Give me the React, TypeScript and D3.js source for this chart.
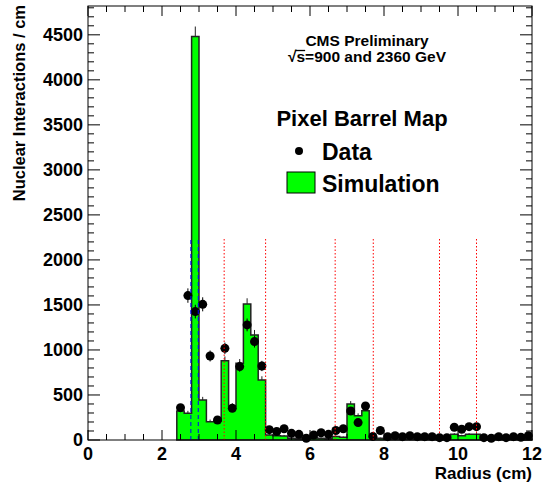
import React, { useLayoutEffect, useRef, useState } from 'react'
import * as d3 from 'd3'

// bin lower edges (cm), width 0.2
const binEdges = [2.4, 2.6, 2.8, 3.0, 3.2, 3.4, 3.6, 3.8, 4.0, 4.2, 4.4, 4.6, 4.8, 5.0, 5.2, 5.4, 5.6, 5.8, 6.0, 6.2, 6.4, 6.6, 6.8, 7.0, 7.2, 7.4, 7.6, 7.8, 8.0, 8.2, 8.4, 8.6, 8.8, 9.0, 9.2, 9.4, 9.6, 9.8, 10.0, 10.2, 10.4, 10.6, 10.8, 11.0, 11.2, 11.4, 11.6, 11.8]
const binWidth = 0.2

const simulation = [322, 296, 4481, 444, 204, 210, 881, 378, 852, 1511, 1167, 667, 56, 48, 45, 20, 15, 10, 25, 20, 15, 40, 30, 400, 270, 325, 30, 20, 10, 10, 8, 10, 8, 8, 10, 8, 10, 63, 48, 63, 63, 10, 8, 10, 8, 8, 8, 10]
const simErr = [29, 28, 111, 35, 23, 23, 47, 31, 47, 63, 55, 41, 12, 11, 11, 7, 6, 5, 8, 7, 6, 10, 9, 32, 26, 29, 9, 7, 5, 5, 5, 5, 5, 5, 5, 5, 5, 13, 11, 13, 13, 5, 5, 5, 5, 5, 5, 5]

const data = [359, 1604, 1426, 1507, 933, 222, 1018, 352, 815, 1278, 1093, 822, 115, 95, 125, 74, 63, 19, 56, 80, 63, 105, 125, 322, 193, 378, 40, 105, 37, 48, 37, 48, 37, 37, 37, 26, 26, 141, 119, 148, 148, 26, 19, 37, 26, 37, 30, 48]
const dataErr = [38, 80, 76, 78, 61, 30, 64, 38, 57, 71, 66, 57, 22, 20, 22, 17, 16, 9, 15, 18, 16, 20, 22, 36, 28, 39, 13, 20, 12, 14, 12, 14, 12, 12, 12, 10, 10, 24, 22, 24, 24, 10, 9, 12, 10, 12, 11, 14]

// layer boundary markers
const blueLines = [2.78, 2.98]
const redLines = [3.68, 4.8, 6.68, 7.71, 9.5, 10.5]
const markerTop = 2250

const yTickLabels = [0, 500, 1000, 1500, 2000, 2500, 3000, 3500, 4000, 4500]
const xTickLabels = [0, 2, 4, 6, 8, 10, 12]

const W = 542
const H = 486
const left = 88, right = 532, top = 6, bottom = 440
const font = 'Liberation Sans, Arial, Helvetica, sans-serif'

export default function App() {
	const energyRef = useRef<SVGTextElement>(null)
	const [bar, setBar] = useState<[number, number] | null>(null)

	useLayoutEffect(() => {
		const t = energyRef.current
		if (!t) return
		// overline over the "s" under the root sign
		const r0 = t.getExtentOfChar(0)
		const r1 = t.getExtentOfChar(1)
		setBar([r0.x + r0.width - 1, r1.x + r1.width])
	}, [])

	const x = d3.scaleLinear().domain([0, 12]).range([left, right])
	const y = d3.scaleLinear().domain([0, 4820]).range([bottom, top])

	// step outline of the simulation histogram
	let d = `M${x(binEdges[0])},${y(0)}`
	binEdges.forEach((e, i) => {
		d += `L${x(e)},${y(simulation[i])}L${x(e + binWidth)},${y(simulation[i])}`
	})
	d += `L${x(binEdges[binEdges.length - 1] + binWidth)},${y(0)}Z`

	const xMinor = d3.range(0, 12.001, 0.5)
	const yMinor = d3.range(0, 4801, 100)

	return (
		<svg width={W} height={H} style={{ position: 'absolute', left: 0, top: 0, background: '#fff' }}
			fontFamily={font} fontWeight="bold">
			<rect x={0} y={0} width={W} height={H} fill="#fff" />

			<path d={d} fill="#00ff00" stroke="#222" strokeWidth={1.5} />
			{binEdges.map((e, i) => (
				<line key={'se' + i} x1={x(e + binWidth / 2)} x2={x(e + binWidth / 2)}
					y1={y(simulation[i])} y2={y(simulation[i] + simErr[i])} stroke="#222" strokeWidth={1} />
			))}

			{/* data points */}
			{binEdges.map((e, i) => (
				<g key={'dp' + i}>
					<line x1={x(e + binWidth / 2)} x2={x(e + binWidth / 2)}
						y1={y(data[i] - dataErr[i])} y2={y(data[i] + dataErr[i])} stroke="#000" strokeWidth={1} />
					<circle cx={x(e + binWidth / 2)} cy={y(data[i])} r={4.5} fill="#000" />
				</g>
			))}

			{blueLines.map((v, i) => (
				<line key={'b' + i} x1={x(v)} x2={x(v)} y1={y(0)} y2={y(markerTop)}
					stroke="#0000ff" strokeWidth={1} strokeDasharray="4,3" />
			))}
			{redLines.map((v, i) => (
				<line key={'r' + i} x1={x(v)} x2={x(v)} y1={y(0)} y2={y(markerTop)}
					stroke="#ff0000" strokeWidth={1} strokeDasharray="1.5,2" />
			))}

			{/* frame and ticks */}
			<rect x={left} y={top} width={right - left} height={bottom - top} fill="none" stroke="#000" strokeWidth={1} />
			{xMinor.map((v, i) => {
				const len = v % 2 === 0 ? 10 : 6
				return (
					<g key={'xt' + i} stroke="#000" strokeWidth={1}>
						<line x1={x(v)} x2={x(v)} y1={bottom} y2={bottom - len} />
						<line x1={x(v)} x2={x(v)} y1={top} y2={top + len} />
					</g>
				)
			})}
			{yMinor.map((v, i) => {
				const len = v % 500 === 0 ? 12 : 6
				return (
					<g key={'yt' + i} stroke="#000" strokeWidth={1}>
						<line x1={left} x2={left + len} y1={y(v)} y2={y(v)} />
						<line x1={right} x2={right - len} y1={y(v)} y2={y(v)} />
					</g>
				)
			})}

			{yTickLabels.map(v => (
				<text key={'yl' + v} x={left - 5} y={y(v)} dy="0.36em" textAnchor="end" fontSize={18} fill="#000">{v}</text>
			))}
			{xTickLabels.map(v => (
				<text key={'xl' + v} x={x(v)} y={bottom + 20} textAnchor="middle" fontSize={18} fill="#000">{v}</text>
			))}

			<text x={right} y={479} textAnchor="end" fontSize={17}>Radius (cm)</text>
			<text transform={`translate(25,5) rotate(-90)`} textAnchor="end" fontSize={16.5}>Nuclear Interactions / cm</text>

			<text x={367} y={46} textAnchor="middle" fontSize={15.5}>CMS Preliminary</text>
			<text ref={energyRef} x={367} y={62} textAnchor="middle" fontSize={15.5}>√s=900 and 2360 GeV</text>
			{bar && <line x1={bar[0]} x2={bar[1]} y1={50.5} y2={50.5} stroke="#000" strokeWidth={1.3} />}

			<text x={362} y={126} textAnchor="middle" fontSize={22}>Pixel Barrel Map</text>
			<circle cx={299} cy={151} r={4} fill="#000" />
			<text x={322} y={160} fontSize={23}>Data</text>
			<rect x={287} y={172} width={28} height={21} fill="#00ff00" stroke="#000" strokeWidth={1} />
			<text x={322} y={192} fontSize={23}>Simulation</text>
		</svg>
	)
}
